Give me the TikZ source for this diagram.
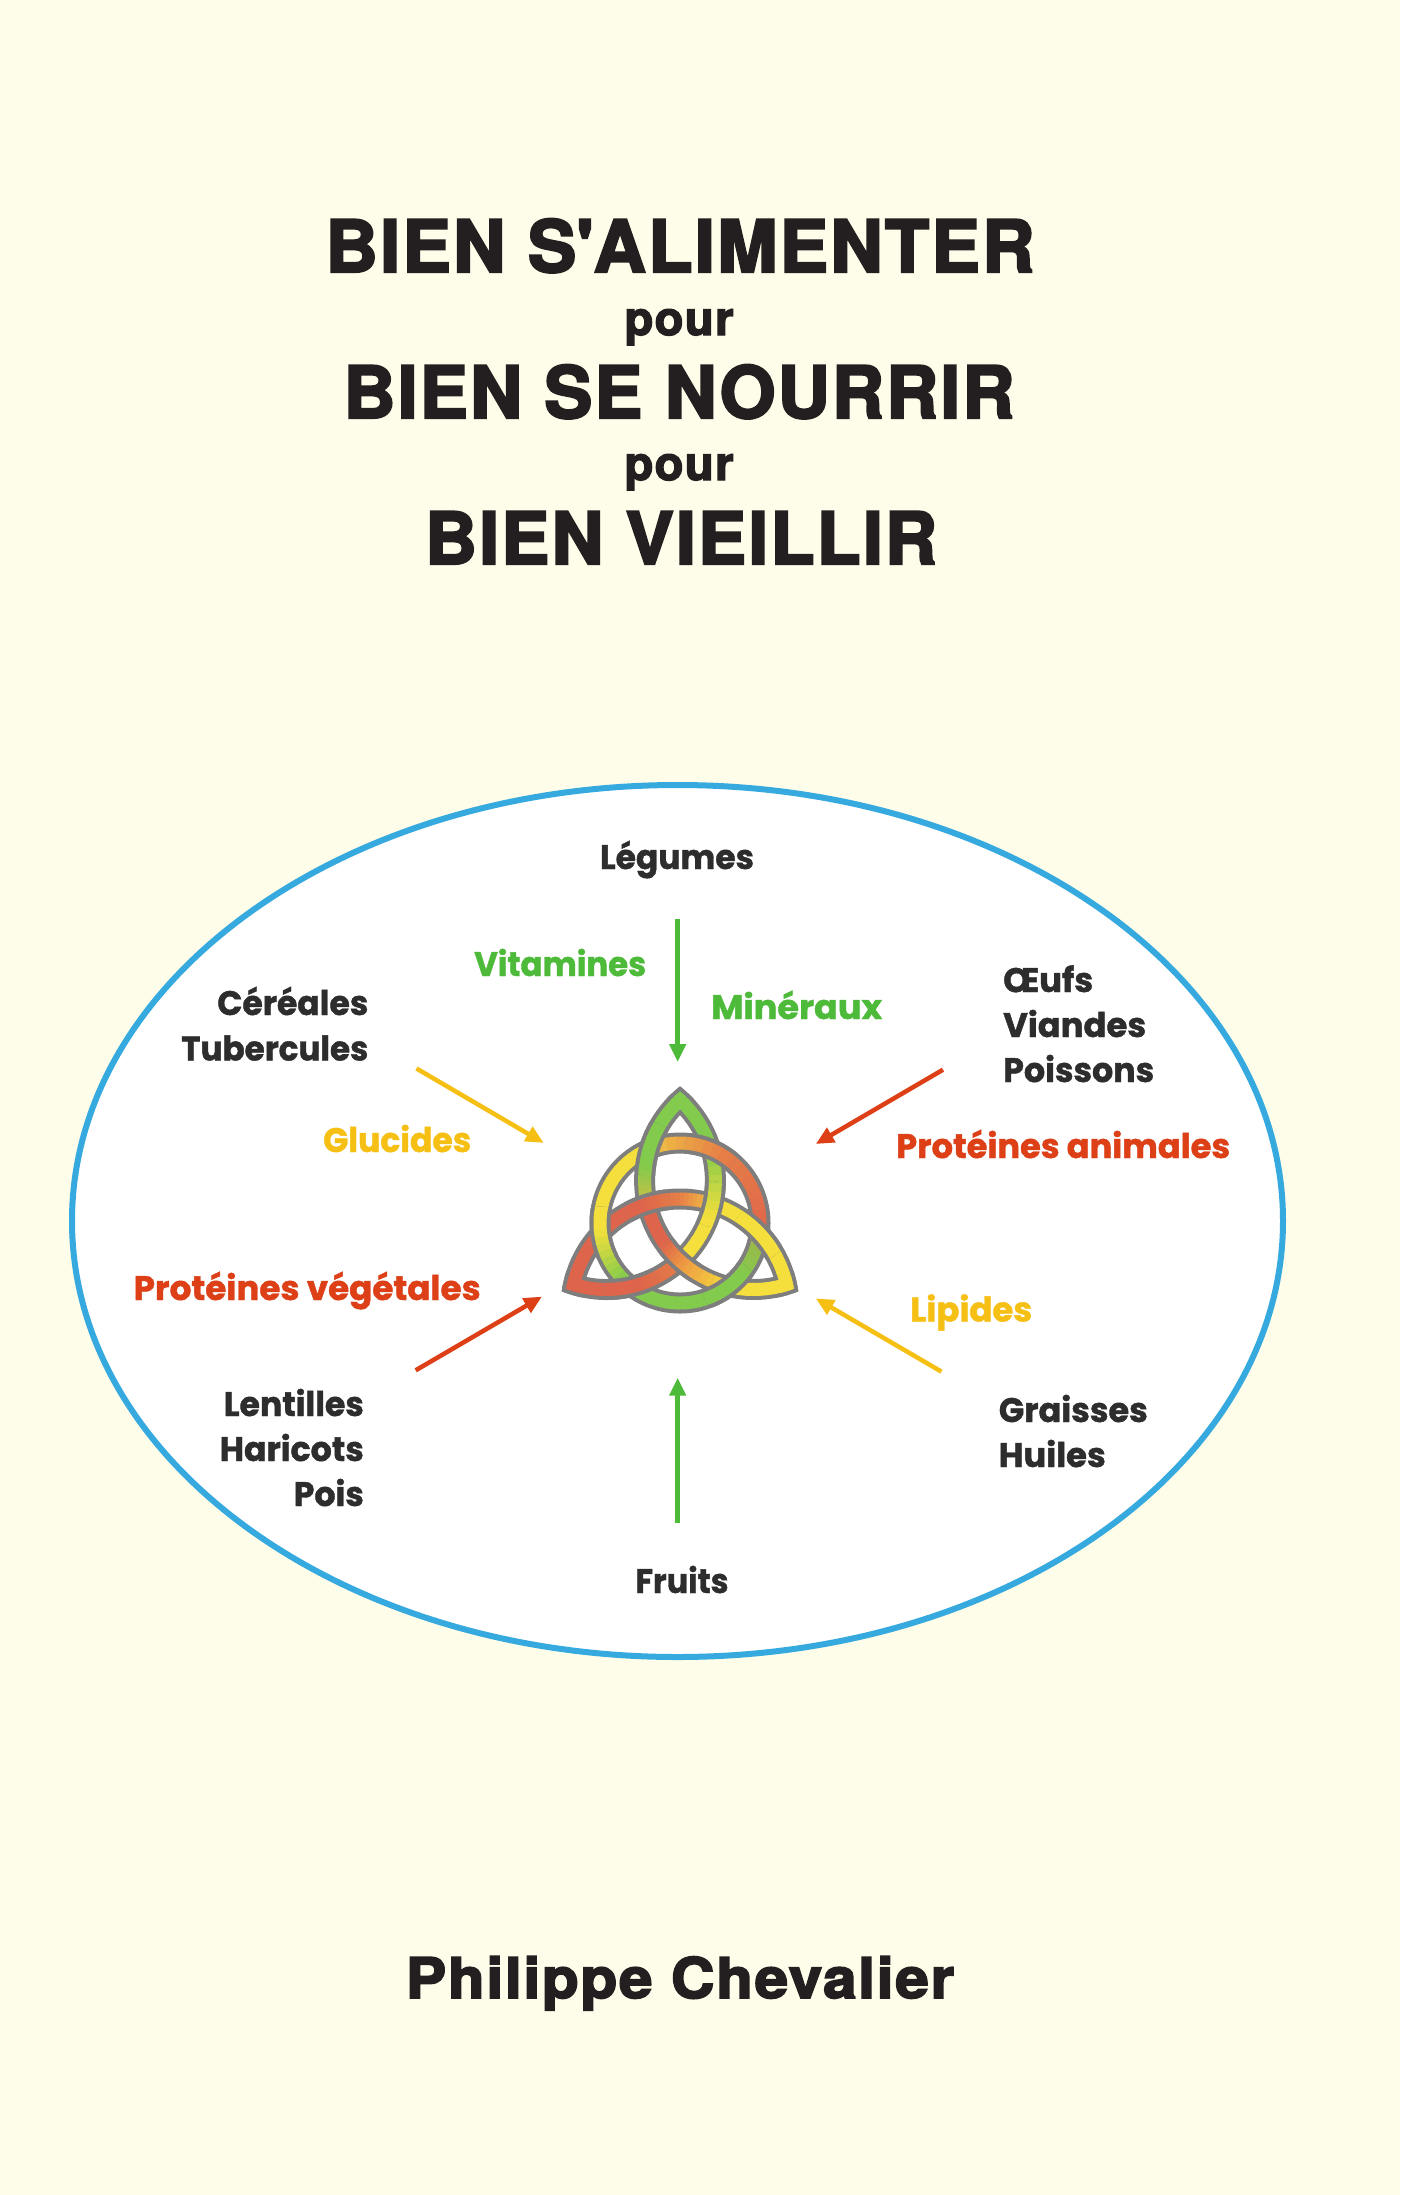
\documentclass[tikz,border=0pt]{standalone}
\usepackage{fontspec}
\usepackage{graphicx}
\usetikzlibrary{arrows.meta}
\setmainfont{TeX Gyre Heros}
\newfontfamily\ttlfont{TeX Gyre Heros}[FakeBold=3,LetterSpace=3]
\newfontfamily\labfont{Poppins}[FakeBold=1.2]
\definecolor{bgc}{HTML}{FEFDE9}
\definecolor{ellc}{HTML}{36A9DF}
\definecolor{txtc}{HTML}{231F20}
\definecolor{labc}{HTML}{2D2D2D}
\definecolor{lgreen}{HTML}{4DBA3A}
\definecolor{lyellow}{HTML}{F6BF14}
\definecolor{lred}{HTML}{DD3F17}
\definecolor{tG}{HTML}{82CB4C}
\definecolor{tY}{HTML}{F4DF3C}
\definecolor{tO}{HTML}{EFA042}
\definecolor{tR}{HTML}{DE654B}
\definecolor{tOR}{HTML}{E67F47}
\definecolor{tYO}{HTML}{F0C443}
\definecolor{tGY}{HTML}{CDBF45}
\definecolor{tOl}{HTML}{A3B24B}
\definecolor{tgray}{HTML}{7E7E7E}

\newlength\fitlen
\newcommand{\xfit}[2]{\settowidth{\fitlen}{#2}\pgfmathsetmacro{\fitsx}{#1/\fitlen}\scalebox{\fitsx}[1]{#2}}

\tikzset{
  grayband/.style={line width=21pt, draw=tgray, line cap=butt},
  colband/.style={line width=13pt, line cap=butt},
  ttl/.style={font=\ttlfont\bfseries\fontsize{72}{72}\selectfont, text=txtc, inner sep=0pt},
  pourf/.style={font=\ttlfont\bfseries\fontsize{47}{47}\selectfont, text=txtc, inner sep=0pt},
  auth/.style={font=\ttlfont\bfseries\fontsize{56}{56}\selectfont, text=txtc, inner sep=0pt},
  lab/.style={font=\labfont\bfseries\fontsize{34}{34}\selectfont, inner sep=0pt},
  arr/.style={line width=4.5pt, -{Triangle[length=18pt,width=16pt]}},
}

% gradient arc: center, radius, start, end, col1, col2
\newcommand{\garc}[6]{%
  \foreach \k in {0,...,7}{%
    \pgfmathsetmacro{\ta}{(#3)+((#4)-(#3))*\k/8}%
    \pgfmathsetmacro{\tb}{(#3)+((#4)-(#3))*(\k+1)/8+ifthenelse((#4)>(#3),0.7,-0.7)}%
    \pgfmathtruncatemacro{\pc}{100*(\k+0.5)/8}%
    \draw[colband,draw=#6!\pc!#5] #1 ++(\ta:#2) arc[start angle=\ta,end angle=\tb,radius=#2];%
  }}
% tip extension: style, center, start, end, clip center, clip radius
\newcommand{\tipx}[6]{\begin{scope}\clip #5 circle[radius=#6];\draw[#1] #2 ++(#3:109) arc[start angle=#3,end angle=#4,radius=109];\end{scope}}

\newcommand{\grayA}{\draw[grayband] (cA) ++(132.48:109) arc[start angle=132.48,end angle=287.52,radius=109];%
  \tipx{grayband}{(cA)}{132.48}{108}{(cB)}{119.5}\tipx{grayband}{(cA)}{287.52}{312}{(cC)}{119.5}}
\newcommand{\grayB}{\draw[grayband] (cB) ++(-107.52:109) arc[start angle=-107.52,end angle=47.52,radius=109];%
  \tipx{grayband}{(cB)}{-107.52}{-132}{(cC)}{119.5}\tipx{grayband}{(cB)}{47.52}{72}{(cA)}{119.5}}
\newcommand{\grayC}{\draw[grayband] (cC) ++(167.52:109) arc[start angle=167.52,end angle=12.48,radius=109];%
  \tipx{grayband}{(cC)}{167.52}{192}{(cB)}{119.5}\tipx{grayband}{(cC)}{12.48}{-12}{(cA)}{119.5}}
\newcommand{\grayR}{\draw[grayband] (0,0) circle[radius=80];}

\newcommand{\colA}{%
  \garc{(cA)}{109}{132.48}{172}{tG}{tG}\garc{(cA)}{109}{172}{192.48}{tG}{tGY}%
  \garc{(cA)}{109}{192.48}{215}{tR}{tR}\garc{(cA)}{109}{215}{232}{tR}{tO}%
  \garc{(cA)}{109}{232}{258}{tO}{tY}\garc{(cA)}{109}{258}{287.52}{tY}{tY}%
  \tipx{colband,draw=tG}{(cA)}{132.48}{108}{(cB)}{115.5}\tipx{colband,draw=tY}{(cA)}{287.52}{312}{(cC)}{115.5}}
\newcommand{\colB}{%
  \garc{(cB)}{109}{-107.52}{-72}{tR}{tR}\garc{(cB)}{109}{-72}{-47.52}{tR}{tOR}%
  \garc{(cB)}{109}{-47.52}{-20}{tY}{tY}\garc{(cB)}{109}{-20}{16.72}{tY}{tG}%
  \garc{(cB)}{109}{16.72}{47.52}{tG}{tG}%
  \tipx{colband,draw=tR}{(cB)}{-107.52}{-132}{(cC)}{115.5}\tipx{colband,draw=tG}{(cB)}{47.52}{72}{(cA)}{115.5}}
\newcommand{\colC}{%
  \garc{(cC)}{109}{167.52}{110}{tR}{tR}\garc{(cC)}{109}{110}{90}{tR}{tOR}%
  \garc{(cC)}{109}{90}{72.48}{tOR}{tYO}\garc{(cC)}{109}{72.48}{12.48}{tY}{tY}%
  \tipx{colband,draw=tR}{(cC)}{167.52}{192}{(cB)}{115.5}\tipx{colband,draw=tY}{(cC)}{12.48}{-12}{(cA)}{115.5}}
\newcommand{\colR}{%
  \garc{(0,0)}{80}{352.63}{320}{tOl}{tG}\garc{(0,0)}{80}{320}{225}{tG}{tG}%
  \garc{(0,0)}{80}{225}{185}{tG}{tY}\garc{(0,0)}{80}{185}{112.63}{tY}{tY}%
  \garc{(0,0)}{80}{112.63}{60}{tYO}{tOR}\garc{(0,0)}{80}{60}{-7.37}{tOR}{tR}}
\newcommand{\xover}[3]{\begin{scope}\clip #1 circle[radius=#2];#3\end{scope}}

\begin{document}
\begin{tikzpicture}[x=1pt,y=-1pt]
\fill[bgc] (0,0) rectangle (1400,2195);
\useasboundingbox (0,0) rectangle (1400,2195);

% titles
\node[ttl, anchor=base] (t1) at (680,272) {\xfit{709}{BIEN S\textquotesingle ALIMENTER}};
\node[pourf, anchor=base] (p1) at (679,335) {\xfit{109}{pour}};
\node[ttl, anchor=base] (t2) at (679,418) {\xfit{671}{BIEN SE NOURRIR}};
\node[pourf, anchor=base] (p2) at (679,480) {\xfit{109}{pour}};
\node[ttl, anchor=base] (t3) at (681,564) {\xfit{512}{BIEN VIEILLIR}};
\node[auth, anchor=base] (au) at (680,1998) {\xfit{548}{Philippe Chevalier}};

% ellipse
\draw[line width=6pt, draw=ellc, fill=white] (677.5,1221) ellipse[x radius=605.5, y radius=436];

% triquetra
\begin{scope}[shift={(680,1223)}, yscale=-1]
  \coordinate (cA) at (73.61,42.5);
  \coordinate (cB) at (-73.61,42.5);
  \coordinate (cC) at (0,-85);
  \grayR\grayA\grayB\grayC
  \colR\colA\colB\colC
  \xover{(-30.77,73.85)}{27}{\grayA\colA}
  \xover{(30.77,73.85)}{27}{\grayR\colR}
  \xover{(-79.34,-10.26)}{27}{\grayR\colR}
  \xover{(-48.56,-63.57)}{27}{\grayB\colB}
  \xover{(48.56,-63.57)}{27}{\grayR\colR}
  \xover{(79.34,-10.26)}{27}{\grayC\colC}
  \xover{(-32.81,18.95)}{23}{\grayC\colC}
  \xover{(0,-37.89)}{23}{\grayA\colA}
  \xover{(32.81,18.95)}{23}{\grayB\colB}
\end{scope}

% labels
\node[lab, text=labc, anchor=base] (leg) at (677,869) {\xfit{154}{Légumes}};
\node[lab, text=lgreen, anchor=base west] (vit) at (474,976) {\xfit{172}{Vitamines}};
\node[lab, text=lgreen, anchor=base west] (min) at (711,1019) {\xfit{171}{Minéraux}};
\node[lab, text=labc, anchor=base east] (cer) at (368.5,1015) {\xfit{151}{Céréales}};
\node[lab, text=labc, anchor=base east] (tub) at (368.5,1060.5) {\xfit{187}{Tubercules}};
\node[lab, text=lyellow, anchor=base west] (glu) at (323,1152) {\xfit{148}{Glucides}};
\node[lab, text=labc, anchor=base west] (oeu) at (1003,992) {\xfit{90}{Œufs}};
\node[lab, text=labc, anchor=base west] (via) at (1003,1037) {\xfit{143}{Viandes}};
\node[lab, text=labc, anchor=base west] (poi) at (1003,1082) {\xfit{151}{Poissons}};
\node[lab, text=lred, anchor=base west] (pan) at (896,1158) {\xfit{334}{Protéines animales}};
\node[lab, text=lred, anchor=base west] (pve) at (133.5,1300) {\xfit{347}{Protéines végétales}};
\node[lab, text=lyellow, anchor=base west] (lip) at (910,1321.5) {\xfit{122}{Lipides}};
\node[lab, text=labc, anchor=base east] (len) at (364,1416) {\xfit{140}{Lentilles}};
\node[lab, text=labc, anchor=base east] (har) at (364,1461) {\xfit{144}{Haricots}};
\node[lab, text=labc, anchor=base east] (pois) at (364,1506) {\xfit{70}{Pois}};
\node[lab, text=labc, anchor=base west] (gra) at (998.6,1422) {\xfit{149}{Graisses}};
\node[lab, text=labc, anchor=base west] (hui) at (998.6,1467) {\xfit{107}{Huiles}};
\node[lab, text=labc, anchor=base] (fru) at (682,1593) {\xfit{93}{Fruits}};

% arrows
\coordinate (a1s) at (677.7,919);   \coordinate (a1e) at (677.7,1062);
\coordinate (a2s) at (416.5,1068.5); \coordinate (a2e) at (543.7,1142.9);
\coordinate (a3s) at (943,1069.7);  \coordinate (a3e) at (815.8,1144);
\coordinate (a4s) at (415.7,1370.3); \coordinate (a4e) at (542,1296.6);
\coordinate (a5s) at (941.4,1371.6); \coordinate (a5e) at (815.8,1298.4);
\coordinate (a6s) at (677.7,1522.8); \coordinate (a6e) at (677.7,1377.7);
\draw[arr, draw=lgreen, fill=lgreen] (a1s) -- (a1e);
\draw[arr, draw=lyellow, fill=lyellow] (a2s) -- (a2e);
\draw[arr, draw=lred, fill=lred] (a3s) -- (a3e);
\draw[arr, draw=lred, fill=lred] (a4s) -- (a4e);
\draw[arr, draw=lyellow, fill=lyellow] (a5s) -- (a5e);
\draw[arr, draw=lgreen, fill=lgreen] (a6s) -- (a6e);
\end{tikzpicture}
\end{document}
